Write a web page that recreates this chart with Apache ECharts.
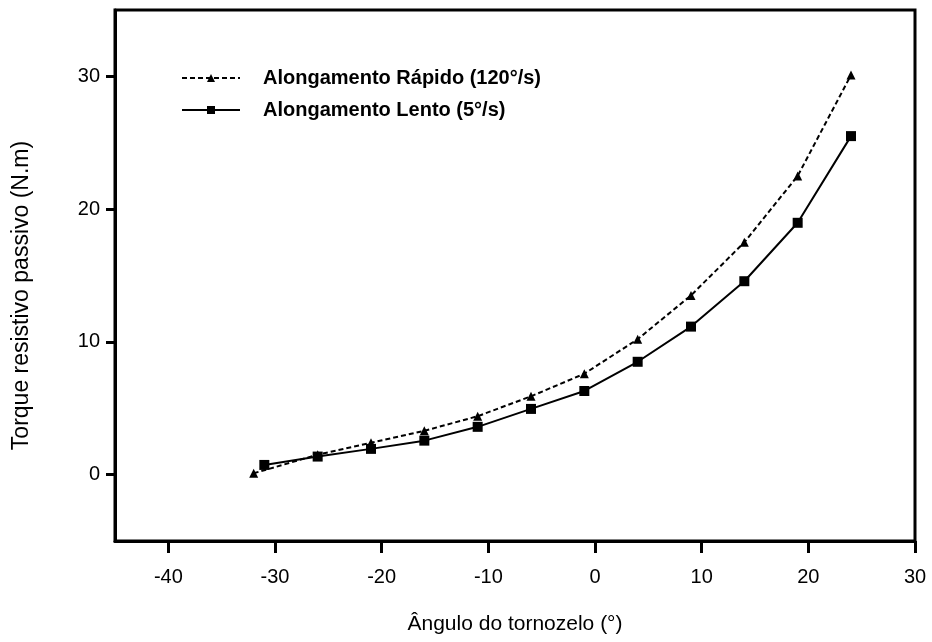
<!DOCTYPE html>
<html>
<head>
<meta charset="utf-8">
<script src="https://cdn.jsdelivr.net/npm/echarts@6/dist/echarts.min.js"></script>
<style>
  html, body { margin: 0; padding: 0; background: #fff; }
  #chart { width: 932px; height: 642px; }
</style>
</head>
<body>
<div id="chart"></div>
<script>
  // ângulo do tornozelo (graus)
  const angRapido = [-32, -26, -21, -16, -11, -6, -1, 4, 9, 14, 19, 24]
  const angLento = [-31, -26, -21, -16, -11, -6, -1, 4, 9, 14, 19, 24]
  // torque resistivo passivo (N.m)
  const torqueRapido = [0.1, 1.5, 2.4, 3.3, 4.4, 5.9, 7.6, 10.2, 13.5, 17.5, 22.5, 30.1]
  const torqueLento = [0.73, 1.36, 1.94, 2.56, 3.6, 4.95, 6.3, 8.5, 11.15, 14.57, 18.97, 25.5]
  const xTicks = [-40, -30, -20, -10, 0, 10, 20, 30]
  const yTicks = [0, 10, 20, 30]

  const font = 'Liberation Sans, Arial, sans-serif'
  const chart = echarts.init(document.getElementById('chart'))

  const pairs = (xs, ys) => xs.map((x, i) => [x, ys[i]])

  chart.setOption({
    animation: false,
    grid: {
      left: 115, right: 17, top: 10, bottom: 101,
      show: true, borderColor: '#000', borderWidth: 3
    },
    legend: {
      orient: 'vertical',
      left: 176, top: 63,
      itemWidth: 58, itemHeight: 10, itemGap: 12,
      textStyle: { fontFamily: font, fontSize: 20, fontWeight: 'bold', color: '#000', padding: [0, 0, 0, 18] },
      data: ['Alongamento Rápido (120°/s)', 'Alongamento Lento (5°/s)']
    },
    xAxis: {
      type: 'value', min: -45, max: 30,
      name: 'Ângulo do tornozelo (°)',
      nameLocation: 'middle', nameGap: 73,
      nameTextStyle: { fontFamily: font, fontSize: 21, color: '#000' },
      axisLine: { onZero: false, lineStyle: { color: '#000', width: 3 } },
      axisTick: { customValues: xTicks, length: 12, lineStyle: { color: '#000', width: 3 } },
      axisLabel: { customValues: xTicks, margin: 26, fontFamily: font, fontSize: 20, color: '#000' },
      splitLine: { show: false }
    },
    yAxis: {
      type: 'value', min: -5, max: 35,
      name: 'Torque resistivo passivo (N.m)',
      nameLocation: 'middle', nameGap: 82,
      nameTextStyle: { fontFamily: font, fontSize: 23, color: '#000', padding: [0, 40, 0, 0] },
      axisLine: { show: true, onZero: false, lineStyle: { color: '#000', width: 3 } },
      axisTick: { show: true, customValues: yTicks, length: 9, lineStyle: { color: '#000', width: 3 } },
      axisLabel: { customValues: yTicks, margin: 15, fontFamily: font, fontSize: 20, color: '#000' },
      splitLine: { show: false }
    },
    series: [
      {
        name: 'Alongamento Rápido (120°/s)',
        type: 'line',
        data: pairs(angRapido, torqueRapido),
        symbol: 'triangle', symbolSize: 9,
        itemStyle: { color: '#000' },
        lineStyle: { color: '#000', width: 2, type: [5, 3] }
      },
      {
        name: 'Alongamento Lento (5°/s)',
        type: 'line',
        data: pairs(angLento, torqueLento),
        symbol: 'rect', symbolSize: 10,
        itemStyle: { color: '#000' },
        lineStyle: { color: '#000', width: 2 }
      }
    ]
  })
</script>
</body>
</html>
